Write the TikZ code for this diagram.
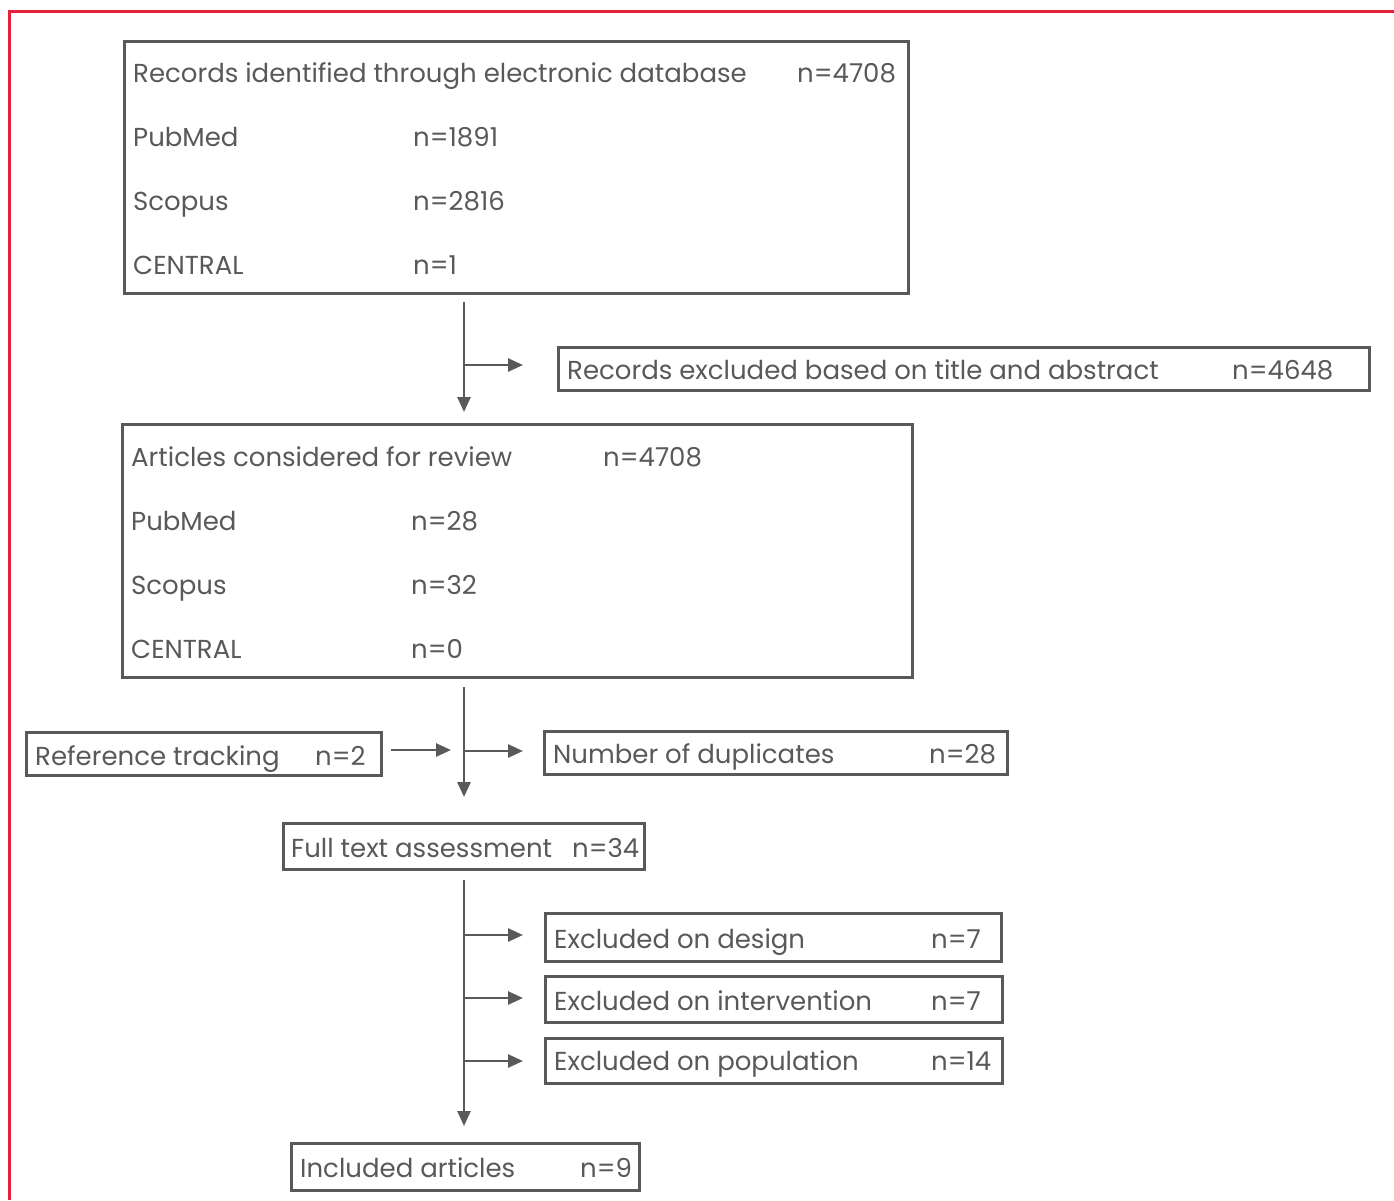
\documentclass[tikz,border=0pt]{standalone}
\usepackage{fontspec}
\setmainfont{Poppins}
\usetikzlibrary{arrows.meta}
\definecolor{ink}{HTML}{58595B}
\definecolor{frame}{HTML}{E8213A}
\begin{document}
\begin{tikzpicture}[x=1pt,y=-1pt,
  box/.style={draw=ink,line width=2.6pt,inner sep=0pt,anchor=north west},
  lbl/.style={anchor=base west,inner sep=0pt,text=ink,font=\fontsize{26}{30}\selectfont},
  arr/.style={draw=ink,line width=2.6pt,-{Triangle[length=15pt,width=13pt]}},
  ln/.style={draw=ink,line width=2.6pt}]
\useasboundingbox (0,0) rectangle (1394,1200);
\fill[white] (0,0) rectangle (1394,1200);
% red frame
\draw[frame,line width=3pt] (1394,11) -- (9,11) -- (9,1200);
% boxes
\node[box,minimum width=784pt,minimum height=252pt] (A) at (123,40) {};
\node[box,minimum width=811pt,minimum height=43pt] (B) at (557,346) {};
\node[box,minimum width=790pt,minimum height=253pt] (C) at (121,423) {};
\node[box,minimum width=355pt,minimum height=43pt] (R) at (25,731) {};
\node[box,minimum width=463pt,minimum height=43pt] (D) at (543,730) {};
\node[box,minimum width=361pt,minimum height=46pt] (F) at (282,822) {};
\node[box,minimum width=456pt,minimum height=48pt] (E1) at (544,912) {};
\node[box,minimum width=457pt,minimum height=46pt] (E2) at (544,975) {};
\node[box,minimum width=457pt,minimum height=45pt] (E3) at (544,1037) {};
\node[box,minimum width=348pt,minimum height=47pt] (I) at (290,1142) {};
% texts box A
\node[lbl] (a1) at (133,82) {Records identified through electronic database};
\node[lbl] (a1n) at (797,82) {n=4708};
\node[lbl] (a2) at (133,146) {PubMed};
\node[lbl] (a2n) at (413,146) {n=1891};
\node[lbl] (a3) at (133,210) {Scopus};
\node[lbl] (a3n) at (413,210) {n=2816};
\node[lbl] (a4) at (133,274) {CENTRAL};
\node[lbl] (a4n) at (413,274) {n=1};
% box B
\node[lbl] (b1) at (567,379) {Records excluded based on title and abstract};
\node[lbl] (b1n) at (1232,379) {n=4648};
% box C
\node[lbl] (c1) at (131,466) {Articles considered for review};
\node[lbl] (c1n) at (603,466) {n=4708};
\node[lbl] (c2) at (131,530) {PubMed};
\node[lbl] (c2n) at (411,530) {n=28};
\node[lbl] (c3) at (131,594) {Scopus};
\node[lbl] (c3n) at (411,594) {n=32};
\node[lbl] (c4) at (131,658) {CENTRAL};
\node[lbl] (c4n) at (411,658) {n=0};
% others
\node[lbl] (r1) at (35,765) {Reference tracking};
\node[lbl] (r1n) at (315,765) {n=2};
\node[lbl] (d1) at (553,763) {Number of duplicates};
\node[lbl] (d1n) at (929,763) {n=28};
\node[lbl] (f1) at (291,857) {Full text assessment};
\node[lbl] (f1n) at (572,857) {n=34};
\node[lbl] (e1) at (554,948) {Excluded on design};
\node[lbl] (e1n) at (931,948) {n=7};
\node[lbl] (e2) at (554,1010) {Excluded on intervention};
\node[lbl] (e2n) at (931,1010) {n=7};
\node[lbl] (e3) at (554,1070) {Excluded on population};
\node[lbl] (e3n) at (931,1070) {n=14};
\node[lbl] (i1) at (300,1177) {Included articles};
\node[lbl] (i1n) at (580,1177) {n=9};
% connector coordinates
\coordinate (s1a) at (464,302);
\coordinate (s1b) at (464,412);
\coordinate (s1m) at (464,365);
\coordinate (s1e) at (523,365);
\coordinate (s2a) at (464,687);
\coordinate (s2b) at (464,797);
\coordinate (s2m) at (464,751);
\coordinate (s2e) at (523,751);
\coordinate (rs) at (391,750);
\coordinate (re) at (451,750);
\coordinate (s3a) at (464,880);
\coordinate (s3b) at (464,1126);
\coordinate (m1) at (464,935);
\coordinate (m1e) at (523,935);
\coordinate (m2) at (464,998);
\coordinate (m2e) at (523,998);
\coordinate (m3) at (464,1061);
\coordinate (m3e) at (523,1061);
% connectors
\draw[arr] (s1a) -- (s1b);
\draw[arr] (s1m) -- (s1e);
\draw[arr] (s2a) -- (s2b);
\draw[arr] (s2m) -- (s2e);
\draw[arr] (rs) -- (re);
\draw[arr] (s3a) -- (s3b);
\draw[arr] (m1) -- (m1e);
\draw[arr] (m2) -- (m2e);
\draw[arr] (m3) -- (m3e);
\end{tikzpicture}
\end{document}
